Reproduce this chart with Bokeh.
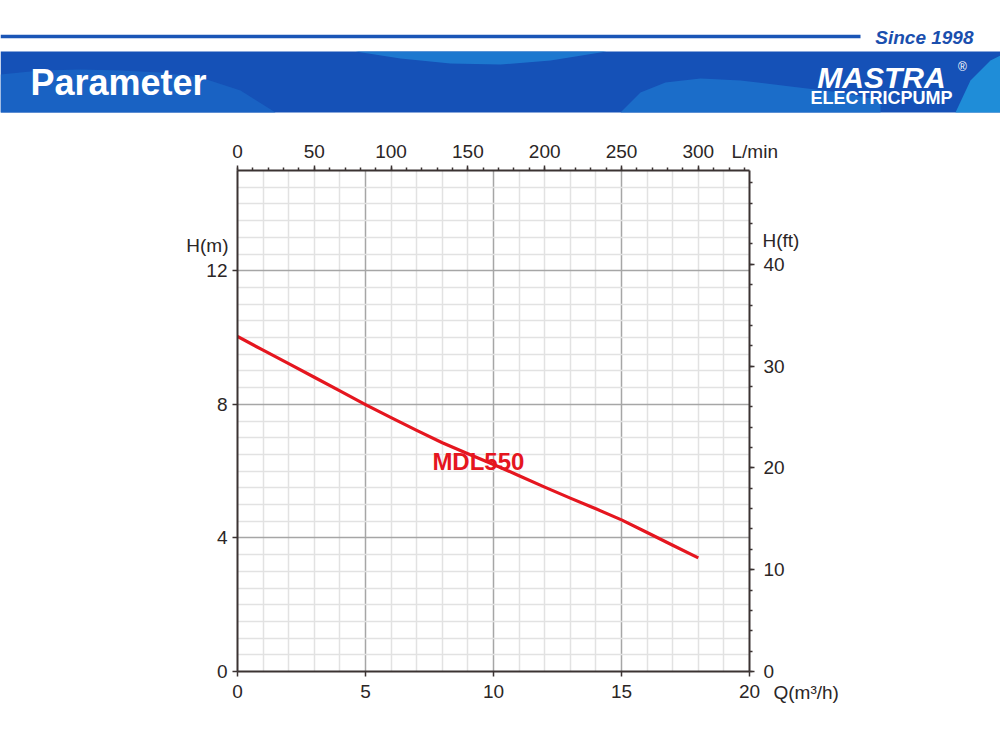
from bokeh.plotting import figure
from bokeh.models import LinearAxis, Range1d, FixedTicker, ColumnDataSource
from bokeh.layouts import column, row
from bokeh.embed import file_html
from bokeh.resources import INLINE
from bokeh.core.properties import value

# ---------------- data ----------------
flow_m3h = [0, 1, 2, 3, 4, 5, 6, 7, 8, 9, 10, 11, 12, 13, 14, 15, 16, 17, 18]
head_m = [10.03, 9.62, 9.22, 8.81, 8.40, 7.99, 7.60, 7.22, 6.85, 6.52, 6.20, 5.86, 5.52, 5.19, 4.87, 4.54, 4.16, 3.78, 3.40]
curve_name = ["MDL550"]
curve_label_q = [9.41]
curve_label_h = [6.29]

q_ticks = [0, 5, 10, 15, 20]
h_ticks = [0, 4, 8, 12]
lmin_ticks = [0, 50, 100, 150, 200, 250, 300]
ft_ticks = [0, 10, 20, 30, 40]
axis_titles = ["H(m)", "L/min", "H(ft)", "Q(m³/h)"]

Q_MAX = 20
H_MAX = 15
M_TO_FT = 3.28084
M3H_TO_LMIN = 1000 / 60

FONT = "Liberation Sans"
AXIS_COLOR = "#3b3332"
TEXT_COLOR = "#2b2626"
RED = "#e5161f"
TICK_FONT_SIZE = "19px"

# ---------------- background page (banner + axis titles) ----------------
bg = figure(width=1000, height=730, x_range=Range1d(0, 1000), y_range=Range1d(730, 0),
            output_backend="svg", toolbar_location=None, min_border=0)
bg.axis.visible = False
bg.grid.visible = False
bg.outline_line_color = None

bg.segment(x0=[0], y0=[36], x1=[860], y1=[36], line_width=3.5, line_color="#1a55b6")
bg.text(x=[973], y=[37], text=["Since 1998"], text_align="right", text_baseline="middle",
        text_font=value(FONT), text_font_style="bold italic", text_font_size="19px",
        text_color="#1a4fae")

bg.quad(left=[0], right=[1000], top=[51], bottom=[112], fill_color="#1551b7", line_color=None)
# lighter wave shapes (decoration)
bg.patch(x=[0, 40, 80, 120, 160, 200, 240, 275, 0],
         y=[74, 70, 69, 70, 72, 77, 90, 112, 112],
         fill_color="#1a67c6", line_color=None, alpha=0.8)
bg.patch(x=[355, 400, 450, 500, 550, 606],
         y=[51, 58, 63, 64, 60, 51],
         fill_color="#1f7fd3", line_color=None, alpha=0.85)
bg.patch(x=[620, 640, 665, 700, 740, 790, 840, 880, 880, 620],
         y=[112, 92, 82, 78, 80, 86, 92, 100, 112, 112],
         fill_color="#1c72cd", line_color=None, alpha=0.85)
bg.patch(x=[955, 970, 990, 1000, 1000],
         y=[112, 80, 60, 55, 112],
         fill_color="#2094dc", line_color=None, alpha=0.9)

bg.text(x=[30], y=[82], text=["Parameter"], text_align="left", text_baseline="middle",
        text_font=value(FONT), text_font_style="bold", text_font_size="36px", text_color="white")
bg.text(x=[881], y=[77], text=["MASTRA"], text_align="center", text_baseline="middle",
        text_font=value(FONT), text_font_style="bold italic", text_font_size="30px", text_color="white")
bg.text(x=[881], y=[97], text=["ELECTRICPUMP"], text_align="center", text_baseline="middle",
        text_font=value(FONT), text_font_style="bold", text_font_size="18px", text_color="white")
bg.text(x=[962], y=[66], text=["®"], text_align="center", text_baseline="middle",
        text_font=value(FONT), text_font_size="12px", text_color="white")

# axis titles (placed in the page around the chart frame)
title_src = ColumnDataSource(dict(x=[228, 731, 762, 773], y=[245, 151, 240, 692],
                                  t=axis_titles, a=["right", "left", "left", "left"]))
bg.text(x="x", y="y", text="t", text_align="a", source=title_src, text_baseline="middle",
        text_font=value(FONT), text_font_size=TICK_FONT_SIZE, text_color=TEXT_COLOR)

# ---------------- chart ----------------
p = figure(width=1000, height=610, x_range=Range1d(0, Q_MAX), y_range=Range1d(0, H_MAX),
           min_border_left=237, min_border_right=251, min_border_top=50, min_border_bottom=59,
           output_backend="svg", toolbar_location=None)
p.outline_line_color = None
p.background_fill_color = None
p.border_fill_color = None


def style_axis(ax, standoff):
    ax.axis_line_color = AXIS_COLOR
    ax.axis_line_width = 2
    ax.major_tick_line_color = AXIS_COLOR
    ax.major_tick_line_width = 1.5
    ax.minor_tick_line_color = AXIS_COLOR
    ax.minor_tick_line_width = 1.5
    ax.major_tick_in = 0
    ax.major_tick_out = 5
    ax.minor_tick_in = 0
    ax.minor_tick_out = 3
    ax.major_label_text_font = FONT
    ax.major_label_text_font_size = TICK_FONT_SIZE
    ax.major_label_text_color = TEXT_COLOR
    ax.major_label_standoff = standoff


xa = p.xaxis[0]
xa.ticker = FixedTicker(ticks=q_ticks, minor_ticks=[])
style_axis(xa, 8)
ya = p.yaxis[0]
ya.ticker = FixedTicker(ticks=h_ticks, minor_ticks=[])
style_axis(ya, 5)

p.extra_x_ranges = {"lmin": Range1d(0, Q_MAX * M3H_TO_LMIN)}
top = LinearAxis(x_range_name="lmin",
                 ticker=FixedTicker(ticks=lmin_ticks, minor_ticks=list(range(0, 334, 10))))
style_axis(top, 8)
p.add_layout(top, "above")

p.extra_y_ranges = {"ft": Range1d(0, H_MAX * M_TO_FT)}
right = LinearAxis(y_range_name="ft",
                   ticker=FixedTicker(ticks=ft_ticks, minor_ticks=list(range(0, 50, 2))))
style_axis(right, 9)
p.add_layout(right, "right")

p.xgrid.ticker = FixedTicker(ticks=[5, 10, 15], minor_ticks=[q for q in range(1, 20) if q % 5])
p.ygrid.ticker = FixedTicker(ticks=[4, 8, 12],
                             minor_ticks=[h / 2 for h in range(1, 30) if h % 8])
for g in (p.xgrid[0], p.ygrid[0]):
    g.grid_line_color = "#a6a6a6"
    g.grid_line_width = 1.5
    g.minor_grid_line_color = "#e2e2e2"
    g.minor_grid_line_width = 1.5

p.line(flow_m3h, head_m, line_color=RED, line_width=3.2, line_join="round")
lbl_src = ColumnDataSource(dict(x=curve_label_q, y=curve_label_h, t=curve_name))
p.text(x="x", y="y", text="t", source=lbl_src, text_align="center", text_baseline="middle",
       text_font=value(FONT), text_font_style="bold", text_font_size="24px", text_color=RED)

chart_row = row(p, margin=(-610, 0, 0, 0))
layout = column(bg, chart_row, spacing=0)
open("out.html", "w").write(file_html(layout, INLINE))
